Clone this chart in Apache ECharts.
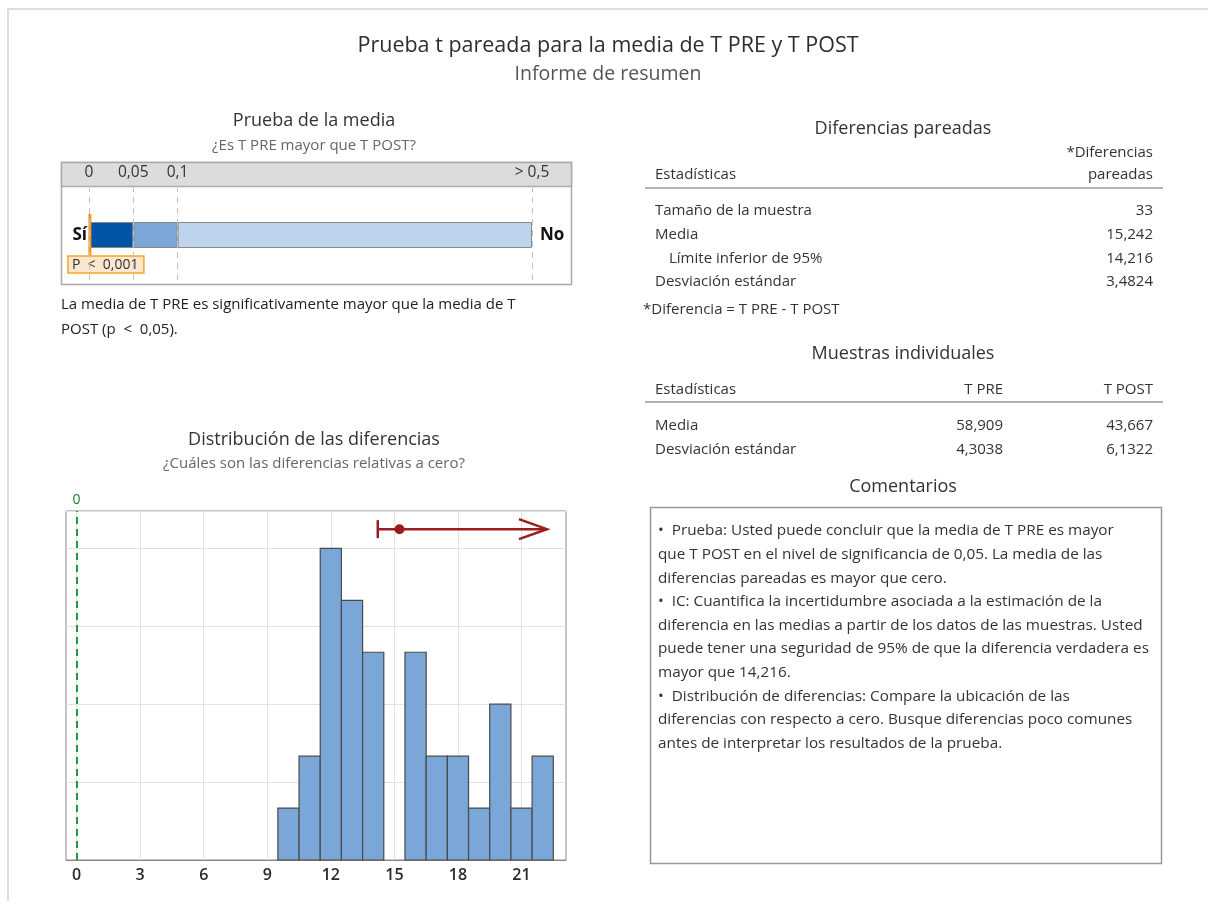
<!DOCTYPE html>
<html>
<head>
<meta charset="utf-8">
<script src="https://cdn.jsdelivr.net/npm/echarts@6/dist/echarts.min.js"></script>
<style>
html,body{margin:0;padding:0;background:#fff}
#main{width:1208px;height:901px}
</style>
</head>
<body>
<div id="main"></div>
<script>
var FONT = '"Open Sans", "Noto Sans", sans-serif';

// prueba de la media (escala de p)
var pTicks = [0, 0.05, 0.1, 0.5];
var pTickLabels = ['0', '0,05', '0,1', '> 0,5'];
var pColors = ['#0054a6', '#7ba7d8', '#bed3ec'];
var pValue = 0.001;
var pLabel = 'P  <  0,001';

// distribucion de las diferencias
var binCenters = [10, 11, 12, 13, 14, 15, 16, 17, 18, 19, 20, 21, 22];
var binCounts = [1, 2, 6, 5, 4, 0, 4, 2, 2, 1, 3, 1, 2];
var diffTicks = [0, 3, 6, 9, 12, 15, 18, 21];
var ciLower = 14.216;
var meanDiff = 15.242;
var ciRow = 6.37;      // altura del intervalo sobre las barras
var ciArrowEnd = 22.2; // cola abierta del IC

// tablas
var pairedRows = ['Tamaño de la muestra', 'Media', 'Límite inferior de 95%', 'Desviación estándar'];
var pairedValues = ['33', '15,242', '14,216', '3,4824'];
var indivRows = ['Media', 'Desviación estándar'];
var tPreValues = ['58,909', '4,3038'];
var tPostValues = ['43,667', '6,1322'];

var comments = [
  '•  Prueba: Usted puede concluir que la media de T PRE es mayor',
  'que T POST en el nivel de significancia de 0,05. La media de las',
  'diferencias pareadas es mayor que cero.',
  '•  IC: Cuantifica la incertidumbre asociada a la estimación de la',
  'diferencia en las medias a partir de los datos de las muestras. Usted',
  'puede tener una seguridad de 95% de que la diferencia verdadera es',
  'mayor que 14,216.',
  '•  Distribución de diferencias: Compare la ubicación de las',
  'diferencias con respecto a cero. Busque diferencias poco comunes',
  'antes de interpretar los resultados de la prueba.'
];

var BODY = 15;

function txt(x, y, s, o) {
  return {
    type: 'text', x: x, y: y, silent: true, z: 5,
    style: Object.assign({
      text: s, fontFamily: FONT, fontSize: BODY, fill: '#333',
      align: 'left', verticalAlign: 'middle'
    }, o || {})
  };
}
function hline(x1, x2, y, color) {
  return { type: 'line', silent: true, z: 5,
    shape: { x1: x1, y1: y, x2: x2, y2: y },
    style: { stroke: color || '#999', lineWidth: 1.5 } };
}

var g = [];
// marco de la pagina
g.push({ type: 'rect', silent: true, z: 0, shape: { x: 8, y: 9, width: 1400, height: 1000 },
  style: { fill: 'none', stroke: '#dedede', lineWidth: 2 } });
g.push(txt(608, 46, 'Prueba t pareada para la media de T PRE y T POST', { align: 'center', fontSize: 21.5, fill: '#2e2e2e' }));
g.push(txt(608, 74, 'Informe de resumen', { align: 'center', fontSize: 19.5, fill: '#555' }));

// panel izquierdo
g.push(txt(314, 121, 'Prueba de la media', { align: 'center', fontSize: 18 }));
g.push(txt(314, 146, '¿Es T PRE mayor que T POST?', { align: 'center', fontSize: 15, fill: '#666' }));
g.push({ type: 'rect', silent: true, z: -1, shape: { x: 61.5, y: 162.5, width: 510, height: 122 },
  style: { fill: '#fff', stroke: '#aaa', lineWidth: 1.5 } });
g.push({ type: 'rect', silent: true, z: -1, shape: { x: 61.5, y: 162.5, width: 510, height: 24 },
  style: { fill: '#dcdcdc', stroke: '#aaa', lineWidth: 1.5 } });
g.push(txt(61, 305, 'La media de T PRE es significativamente mayor que la media de T', { fill: '#222' }));
g.push(txt(61, 330, 'POST (p  <  0,05).', { fill: '#222' }));
g.push(txt(314, 440, 'Distribución de las diferencias', { align: 'center', fontSize: 18 }));
g.push(txt(314, 464, '¿Cuáles son las diferencias relativas a cero?', { align: 'center', fontSize: 15, fill: '#666' }));

// panel derecho: tablas
g.push(txt(903, 129, 'Diferencias pareadas', { align: 'center', fontSize: 18 }));
g.push(txt(1153, 153, '*Diferencias', { align: 'right' }));
g.push(txt(1153, 175, 'pareadas', { align: 'right' }));
g.push(txt(655, 175, 'Estadísticas'));
g.push(hline(645, 1163, 188));
pairedRows.forEach(function (r, i) {
  var y = 211 + i * 23.7;
  g.push(txt(i === 2 ? 669 : 655, y, r));
  g.push(txt(1153, y, pairedValues[i], { align: 'right' }));
});
g.push(txt(643, 310, '*Diferencia = T PRE - T POST'));

g.push(txt(903, 354, 'Muestras individuales', { align: 'center', fontSize: 18 }));
g.push(txt(655, 390, 'Estadísticas'));
g.push(txt(1003, 390, 'T PRE', { align: 'right' }));
g.push(txt(1153, 390, 'T POST', { align: 'right' }));
g.push(hline(645, 1163, 402));
indivRows.forEach(function (r, i) {
  var y = 426 + i * 23.5;
  g.push(txt(655, y, r));
  g.push(txt(1003, y, tPreValues[i], { align: 'right' }));
  g.push(txt(1153, y, tPostValues[i], { align: 'right' }));
});

g.push(txt(903, 487, 'Comentarios', { align: 'center', fontSize: 18 }));
g.push({ type: 'rect', silent: true, z: 1, shape: { x: 650.5, y: 507.5, width: 511, height: 356 },
  style: { fill: 'none', stroke: '#999', lineWidth: 1.5 } });
comments.forEach(function (line, i) {
  g.push(txt(658, 531 + i * 23.6, line, { fontSize: 15.3 }));
});

// escala de p: segmentos apilados
var pSegments = [];
for (var i = 1; i < pTicks.length; i++) {
  pSegments.push(+(pTicks[i] - pTicks[i - 1]).toFixed(4));
}
var pBarSeries = pSegments.map(function (v, i) {
  return {
    type: 'bar', xAxisIndex: 0, yAxisIndex: 0, stack: 'p', barWidth: 26,
    silent: true, data: [v],
    itemStyle: { color: pColors[i], borderColor: '#888', borderWidth: 1 }
  };
});

var pxPerP = 443 / 0.5;

var option = {
  animation: false,
  graphic: g,
  grid: [
    { left: 61, top: 186, width: 510, height: 98 },
    { left: 66, top: 511, width: 500, height: 349, show: true, borderColor: '#888', borderWidth: 1 }
  ],
  xAxis: [
    {
      gridIndex: 0, type: 'value', position: 'top', z: 5,
      min: -(89 - 61) / pxPerP, max: 0.5 + (571 - 532) / pxPerP,
      axisLine: { show: false },
      axisTick: { show: false, customValues: pTicks },
      axisLabel: {
        customValues: pTicks, margin: 5, fontSize: 15.5, color: '#333', fontFamily: FONT,
        formatter: function (v) { return pTickLabels[pTicks.indexOf(v)]; }
      },
      splitLine: { show: true, lineStyle: { color: '#c4c4c4', type: [6, 5], width: 1 } }
    },
    {
      gridIndex: 1, type: 'value', min: -0.5, max: 23.1,
      axisLine: { show: true, lineStyle: { color: '#888' } },
      axisTick: { show: false, customValues: diffTicks },
      axisLabel: { customValues: diffTicks, margin: 7, fontSize: 16, fontWeight: 600, color: '#2a2a2a', fontFamily: FONT },
      splitLine: { show: true, lineStyle: { color: '#e2e2e2', width: 1 } }
    }
  ],
  yAxis: [
    { gridIndex: 0, type: 'category', data: ['p'], show: false },
    {
      gridIndex: 1, type: 'value', min: 0, max: 6.72, interval: 1.5,
      axisLine: { show: false }, axisTick: { show: false }, axisLabel: { show: false },
      splitLine: { show: true, lineStyle: { color: '#e2e2e2', width: 1 } }
    }
  ],
  series: pBarSeries.concat([
    {
      type: 'custom', xAxisIndex: 0, yAxisIndex: 0, silent: true, z: 4,
      data: [[pValue, 0]],
      renderItem: function (params, api) {
        var c = api.coord([api.value(0), 0]);
        var left = api.coord([pTicks[0], 0])[0];
        var right = api.coord([pTicks[pTicks.length - 1], 0])[0];
        return {
          type: 'group',
          children: [
            { type: 'line', shape: { x1: c[0], y1: c[1] - 21, x2: c[0], y2: c[1] + 21 },
              style: { stroke: '#f39a1e', lineWidth: 3 } },
            { type: 'rect', shape: { x: c[0] - 22, y: c[1] + 21, width: 76, height: 17 },
              style: { fill: '#fbe7cf', stroke: '#f5a52a', lineWidth: 1.5 } },
            { type: 'text', x: c[0] - 18, y: c[1] + 30,
              style: { text: pLabel, fontFamily: FONT, fontSize: 14, fill: '#333', verticalAlign: 'middle' } },
            { type: 'text', x: left - 2, y: c[1],
              style: { text: 'Sí', fontFamily: FONT, fontSize: 17, fontWeight: 'bold', fill: '#111', align: 'right', verticalAlign: 'middle' } },
            { type: 'text', x: right + 8, y: c[1],
              style: { text: 'No', fontFamily: FONT, fontSize: 17, fontWeight: 'bold', fill: '#111', align: 'left', verticalAlign: 'middle' } }
          ]
        };
      }
    },
    {
      type: 'custom', xAxisIndex: 1, yAxisIndex: 1, silent: true,
      data: binCenters.map(function (c, i) { return [c, binCounts[i]]; }),
      renderItem: function (params, api) {
        var x = api.value(0), y = api.value(1);
        if (!y) return { type: 'group', children: [] };
        var p0 = api.coord([x - 0.5, y]);
        var p1 = api.coord([x + 0.5, 0]);
        return {
          type: 'rect',
          shape: { x: p0[0], y: p0[1], width: p1[0] - p0[0], height: p1[1] - p0[1] },
          style: { fill: '#7ba6d8', stroke: '#4a4a4a', lineWidth: 1.2 }
        };
      },
      markLine: {
        silent: true, symbol: 'none', data: [{ xAxis: 0 }],
        lineStyle: { color: '#1f9a40', type: [7, 5], width: 2 },
        label: { position: 'end', formatter: '0', color: '#1e7a32', fontSize: 14, fontFamily: FONT, distance: 4 }
      }
    },
    {
      type: 'custom', xAxisIndex: 1, yAxisIndex: 1, silent: true, z: 5,
      data: [[ciLower, meanDiff, ciRow, ciArrowEnd]],
      renderItem: function (params, api) {
        var lo = api.coord([api.value(0), api.value(2)]);
        var mid = api.coord([api.value(1), api.value(2)]);
        var tip = api.coord([api.value(3), api.value(2)]);
        var col = '#9b1c1c';
        return {
          type: 'group',
          children: [
            { type: 'line', shape: { x1: lo[0], y1: lo[1], x2: tip[0], y2: tip[1] },
              style: { stroke: col, lineWidth: 2.5 } },
            { type: 'line', shape: { x1: lo[0], y1: lo[1] - 9, x2: lo[0], y2: lo[1] + 9 },
              style: { stroke: col, lineWidth: 2.5 } },
            { type: 'polyline', shape: { points: [[tip[0] - 28, tip[1] - 10], [tip[0], tip[1]], [tip[0] - 28, tip[1] + 10]] },
              style: { stroke: col, lineWidth: 2.5, fill: 'none' } },
            { type: 'circle', shape: { cx: mid[0], cy: mid[1], r: 5 }, style: { fill: col } }
          ]
        };
      }
    }
  ])
};

var chart = echarts.init(document.getElementById('main'));
chart.setOption(option);
</script>
</body>
</html>
